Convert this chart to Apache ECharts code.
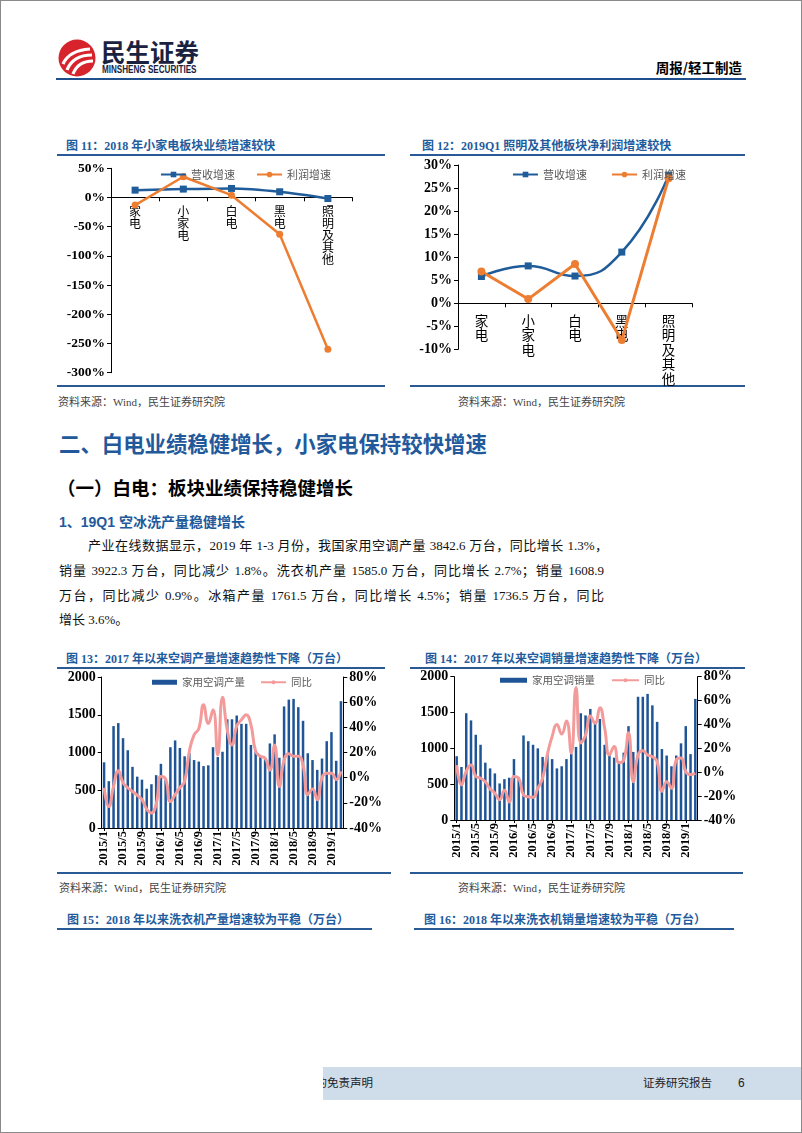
<!DOCTYPE html>
<html><head><meta charset="utf-8">
<script src="https://cdn.jsdelivr.net/npm/echarts@6/dist/echarts.min.js"></script>
<style>
html,body{margin:0;padding:0;background:#fff;}
#page{position:relative;width:802px;height:1133px;overflow:hidden;background:#fff;}
.t{position:absolute;white-space:nowrap;line-height:1;}
.ln{position:absolute;height:2px;background:#2a5a96;}
.ctitle{font-family:"Liberation Serif","Noto Sans CJK SC",serif;font-weight:bold;font-size:12px;color:#1f5c9e;}
.src{font-family:"Liberation Serif","Noto Sans CJK SC",serif;font-size:11px;color:#444;}
.para{position:absolute;font-family:"Liberation Serif","Noto Sans CJK SC",serif;font-size:13px;color:#111;line-height:1;white-space:nowrap;text-align:justify;text-align-last:justify;}
#chart{position:absolute;left:0;top:0;width:802px;height:1133px;}
</style></head>
<body><div id="page">
<div style="position:absolute;left:0;top:0;width:800px;height:1131px;border:1px solid #8a8a8a;"></div>
<svg style="position:absolute;left:58px;top:39px" width="38" height="38" viewBox="0 0 38 38">
 <circle cx="19" cy="19" r="18.5" fill="#d7242c"/>
 <path d="M5 25 C9 16,17 11,32 10" stroke="#fff" stroke-width="3.2" fill="none"/>
 <path d="M9 31 C13 21,21 16,34 16" stroke="#fff" stroke-width="3.2" fill="none"/>
 <path d="M15 35 C18 27,24 22,35 22" stroke="#fff" stroke-width="3.2" fill="none"/>
</svg>
<div class="t" style="left:101px;top:40px;font-family:'Noto Sans CJK SC';font-weight:bold;font-size:24.5px;color:#1b2240;">民生证券</div>
<div class="t" style="left:102px;top:65px;font-family:'Liberation Sans';font-weight:bold;font-size:10px;color:#1b2240;transform:scaleX(0.81);transform-origin:left;">MINSHENG SECURITIES</div>
<div class="t" style="right:60px;top:61px;font-family:'Noto Sans CJK SC';font-weight:bold;font-size:13.5px;color:#000;">周报/轻工制造</div>
<div class="ln" style="left:56px;top:78px;width:690px;background:#1f4e8c;"></div>

<div class="t ctitle" style="left:66px;top:140px;">图 11：2018 年小家电板块业绩增速较快</div>
<div class="t ctitle" style="left:422px;top:140px;">图 12：2019Q1 照明及其他板块净利润增速较快</div>
<div class="ln" style="left:57px;top:154px;width:328px;"></div>
<div class="ln" style="left:410px;top:154px;width:335px;"></div>
<div class="ln" style="left:57px;top:385px;width:328px;"></div>
<div class="ln" style="left:410px;top:385px;width:335px;"></div>
<div class="t src" style="left:58px;top:397px;">资料来源：Wind，民生证券研究院</div>
<div class="t src" style="left:458px;top:397px;">资料来源：Wind，民生证券研究院</div>

<div class="t" style="left:59px;top:432px;font-family:'Noto Sans CJK SC';font-weight:bold;font-size:21.4px;color:#22599b;">二、白电业绩稳健增长，小家电保持较快增速</div>
<div class="t" style="left:57px;top:478px;font-family:'Noto Sans CJK SC';font-weight:bold;font-size:18.5px;color:#000;">（一）白电：板块业绩保持稳健增长</div>
<div class="t" style="left:59px;top:515px;font-family:'Liberation Sans','Noto Sans CJK SC';font-weight:bold;font-size:14px;color:#22599b;">1、19Q1 空冰洗产量稳健增长</div>
<div class="para" style="left:88px;top:539px;width:520px;">产业在线数据显示，2019 年 1-3 月份，我国家用空调产量 3842.6 万台，同比增长 1.3%，</div>
<div class="para" style="left:59px;top:564px;width:545px;">销量 3922.3 万台，同比减少 1.8%。洗衣机产量 1585.0 万台，同比增长 2.7%；销量 1608.9</div>
<div class="para" style="left:59px;top:589px;width:545px;">万台，同比减少 0.9%。冰箱产量 1761.5 万台，同比增长 4.5%；销量 1736.5 万台，同比</div>
<div class="para" style="left:59px;top:613px;text-align:left;text-align-last:left;">增长 3.6%。</div>

<div class="t ctitle" style="left:66px;top:653px;">图 13：2017 年以来空调产量增速趋势性下降（万台）</div>
<div class="t ctitle" style="left:425px;top:653px;">图 14：2017 年以来空调销量增速趋势性下降（万台）</div>
<div class="ln" style="left:57px;top:667px;width:328px;"></div>
<div class="ln" style="left:410px;top:667px;width:335px;"></div>
<div class="ln" style="left:57px;top:872px;width:334px;"></div>
<div class="ln" style="left:410px;top:872px;width:333px;"></div>
<div class="t src" style="left:59px;top:883px;">资料来源：Wind，民生证券研究院</div>
<div class="t src" style="left:458px;top:883px;">资料来源：Wind，民生证券研究院</div>
<div class="t ctitle" style="left:67px;top:914px;">图 15：2018 年以来洗衣机产量增速较为平稳（万台）</div>
<div class="t ctitle" style="left:424px;top:914px;">图 16：2018 年以来洗衣机销量增速较为平稳（万台）</div>
<div class="ln" style="left:57px;top:928px;width:315px;"></div>
<div class="ln" style="left:414px;top:928px;width:320px;"></div>

<div style="position:absolute;left:323px;top:1067px;width:478px;height:33px;background:#cfdcea;overflow:hidden;">
 <div class="t" style="right:428px;top:10px;font-family:'Noto Sans CJK SC';font-size:11.5px;color:#222;">请务必阅读正文之后的免责声明</div>
 <div class="t" style="left:320px;top:10px;font-family:'Noto Sans CJK SC';font-size:11.5px;color:#222;">证券研究报告</div>
 <div class="t" style="left:415px;top:10px;font-family:'Liberation Sans';font-size:12px;color:#222;">6</div>
</div>

<div id="chart"></div>
</div>
<script>
// ---- data ----
const sectorCats = ['家电', '小家电', '白电', '黑电', '照明及其他'];
const rev2018 = [12.6, 14.4, 15.5, 9.8, -1.7];
const profit2018 = [-13, 35.6, 4, -63, -260];
const rev2019Q1 = [5.8, 8.1, 5.9, 11.1, 27.8];
const profit2019Q1 = [6.9, 0.9, 8.5, -8, 27.1];

const months = ['2015/1','2015/2','2015/3','2015/4','2015/5','2015/6','2015/7','2015/8','2015/9','2015/10','2015/11','2015/12',
 '2016/1','2016/2','2016/3','2016/4','2016/5','2016/6','2016/7','2016/8','2016/9','2016/10','2016/11','2016/12',
 '2017/1','2017/2','2017/3','2017/4','2017/5','2017/6','2017/7','2017/8','2017/9','2017/10','2017/11','2017/12',
 '2018/1','2018/2','2018/3','2018/4','2018/5','2018/6','2018/7','2018/8','2018/9','2018/10','2018/11','2018/12',
 '2019/1','2019/2','2019/3'];
const acProd = [870,620,1350,1390,1190,1030,810,680,640,520,580,700,
 850,640,1070,1160,1060,950,990,900,880,820,830,1070,
 940,1010,1440,1440,1490,1380,1380,1100,1010,950,920,1120,
 1240,930,1610,1700,1710,1600,1420,990,900,770,920,1150,
 1270,890,1680];
const acProdYoy = [-8,-23,-7,5.5,-4,-8,-11,-14,-17.5,-25,-28,-21,
 1,-1,-19,-13.5,-8,-3,21,34,39,58,43,54,
 18,64,38,26,41,46,50,42,21,17,15.5,6,
 26,-7,14,19,17,17,10,-13.5,-9,-17.5,0,3.5,
 3.5,-1.5,5];
const acSales = [890,740,1490,1390,1190,1050,800,720,650,510,570,590,
 850,590,1180,1100,1050,1000,880,920,850,720,750,850,
 930,1020,1490,1460,1550,1380,1410,1050,930,870,820,940,
 1310,950,1720,1720,1760,1600,1370,990,900,750,900,1070,
 1310,920,1690];
const acSalesYoy = [6,-10.5,1,6,-3.5,-5,-8,-14,-17.5,-23,-15,-25,
 -3.5,-5,-19,-20.5,-21,-13.5,-5,15,30,40,32,43,
 16,71,24.5,31,47,41,54,37,14.5,21.5,8,10,
 33,-8,14.5,18,14.5,13,9,-16,-8,-13.5,10.5,12,
 0.5,-2,-1];

// ---- styling ----
const SERIF = '"Liberation Serif","Noto Sans CJK SC",serif';
const CJK = '"Noto Sans CJK SC",sans-serif';
const BLUE = '#1f5c99', ORANGE = '#ED7D31', BAR = '#1f5597', PINK = '#f39b9b';
const axLine = {show: true, lineStyle: {color: '#000', width: 1}};
const pct = v => v + '%';
const plain = v => String(v);

// category axis drawn at the zero line (offset up from the grid bottom)
function catAxis(grid, data, fs, lh, margin, offset) {
  return {type: 'category', gridIndex: grid, data: data, boundaryGap: true, position: 'bottom', offset: offset,
    axisLine: {show: true, onZero: false, lineStyle: {color: '#000', width: 1}},
    axisTick: {show: true, length: 4, lineStyle: {color: '#000'}},
    axisLabel: {formatter: v => v.split('').join('\n'), fontFamily: CJK, fontSize: fs, lineHeight: lh,
      color: '#000', margin: margin, verticalAlign: 'top'},
    splitLine: {show: false}};
}
function valAxis(grid, min, max, step, fmt, fs, pos) {
  return {type: 'value', gridIndex: grid, min: min, max: max, interval: step, position: pos || 'left',
    axisLine: axLine, axisTick: {show: true, length: 4, lineStyle: {color: '#000'}},
    splitLine: {show: false},
    axisLabel: {formatter: fmt, fontFamily: SERIF, fontWeight: 'bold', fontSize: fs, color: '#000', margin: 6}};
}
function monthAxis(grid) {
  return {type: 'category', gridIndex: grid, data: months, boundaryGap: true,
    axisLine: {show: true, onZero: false, lineStyle: {color: '#000', width: 1}},
    axisTick: {show: true, interval: 3, alignWithLabel: true, length: 3, lineStyle: {color: '#000'}},
    axisLabel: {interval: 3, rotate: 90, fontFamily: SERIF, fontWeight: 'bold', fontSize: 12.5, color: '#000', margin: 3},
    splitLine: {show: false}};
}
const legText = {fontFamily: CJK, fontSize: 11, color: '#595959'};

const option = {
  animation: false,
  grid: [
    {left: 111, top: 168.3, width: 241, height: 204.4, outerBoundsMode: 'none'},
    {left: 458, top: 165, width: 234, height: 184.3, outerBoundsMode: 'none'},
    {left: 101.7, top: 677, width: 241.6, height: 151, outerBoundsMode: 'none'},
    {left: 454.3, top: 676.7, width: 243.4, height: 143.3, outerBoundsMode: 'none'}
  ],
  legend: [
    {left: 155, top: 164, itemWidth: 25, itemHeight: 7, itemGap: 21, data: ['营收增速', '利润增速'], textStyle: legText},
    {left: 507, top: 164, itemWidth: 25, itemHeight: 7, itemGap: 24, data: ['营收增速', '利润增速'], textStyle: legText},
    {left: 147, top: 672, itemWidth: 25, itemHeight: 5, itemGap: 15,
      data: [{name: '家用空调产量', icon: 'rect'}, '同比'], textStyle: Object.assign({}, legText, {fontSize: 10.5})},
    {left: 495, top: 670, itemWidth: 27, itemHeight: 5, itemGap: 16,
      data: [{name: '家用空调销量', icon: 'rect'}, '同比'], textStyle: Object.assign({}, legText, {fontSize: 10.5})}
  ],
  xAxis: [
    catAxis(0, sectorCats, 12, 12, 8, -175.4),
    catAxis(1, sectorCats, 13.5, 14.5, 10, -46),
    monthAxis(2),
    monthAxis(3)
  ],
  yAxis: [
    valAxis(0, -300, 50, 50, pct, 13.5),
    valAxis(1, -10, 30, 5, pct, 14),
    valAxis(2, 0, 2000, 500, plain, 14),
    valAxis(2, -40, 80, 20, pct, 14, 'right'),
    valAxis(3, 0, 2000, 500, plain, 14),
    valAxis(3, -40, 80, 20, pct, 14, 'right')
  ],
  series: [
    {name: '营收增速', type: 'line', xAxisIndex: 0, yAxisIndex: 0, data: rev2018, smooth: 0.3,
      symbol: 'rect', symbolSize: 7, itemStyle: {color: BLUE}, lineStyle: {color: BLUE, width: 2.5}},
    {name: '利润增速', type: 'line', xAxisIndex: 0, yAxisIndex: 0, data: profit2018,
      symbol: 'circle', symbolSize: 7, itemStyle: {color: ORANGE}, lineStyle: {color: ORANGE, width: 2.5}},
    {name: '营收增速', type: 'line', xAxisIndex: 1, yAxisIndex: 1, data: rev2019Q1, smooth: 0.5,
      symbol: 'rect', symbolSize: 7, itemStyle: {color: BLUE}, lineStyle: {color: BLUE, width: 2.5}},
    {name: '利润增速', type: 'line', xAxisIndex: 1, yAxisIndex: 1, data: profit2019Q1,
      symbol: 'circle', symbolSize: 8, itemStyle: {color: ORANGE}, lineStyle: {color: ORANGE, width: 3}},
    {name: '家用空调产量', type: 'bar', xAxisIndex: 2, yAxisIndex: 2, data: acProd, barWidth: 2.5,
      itemStyle: {color: BAR}},
    {name: '同比', type: 'line', xAxisIndex: 2, yAxisIndex: 3, data: acProdYoy, smooth: 0.5,
      symbol: 'none', itemStyle: {color: PINK}, lineStyle: {color: PINK, width: 3}},
    {name: '家用空调销量', type: 'bar', xAxisIndex: 3, yAxisIndex: 4, data: acSales, barWidth: 2.5,
      itemStyle: {color: BAR}},
    {name: '同比', type: 'line', xAxisIndex: 3, yAxisIndex: 5, data: acSalesYoy, smooth: 0.5,
      symbol: 'none', itemStyle: {color: PINK}, lineStyle: {color: PINK, width: 3}}
  ]
};
const chart = echarts.init(document.getElementById('chart'), null, {renderer: 'canvas'});
chart.setOption(option);
</script>
</body></html>
